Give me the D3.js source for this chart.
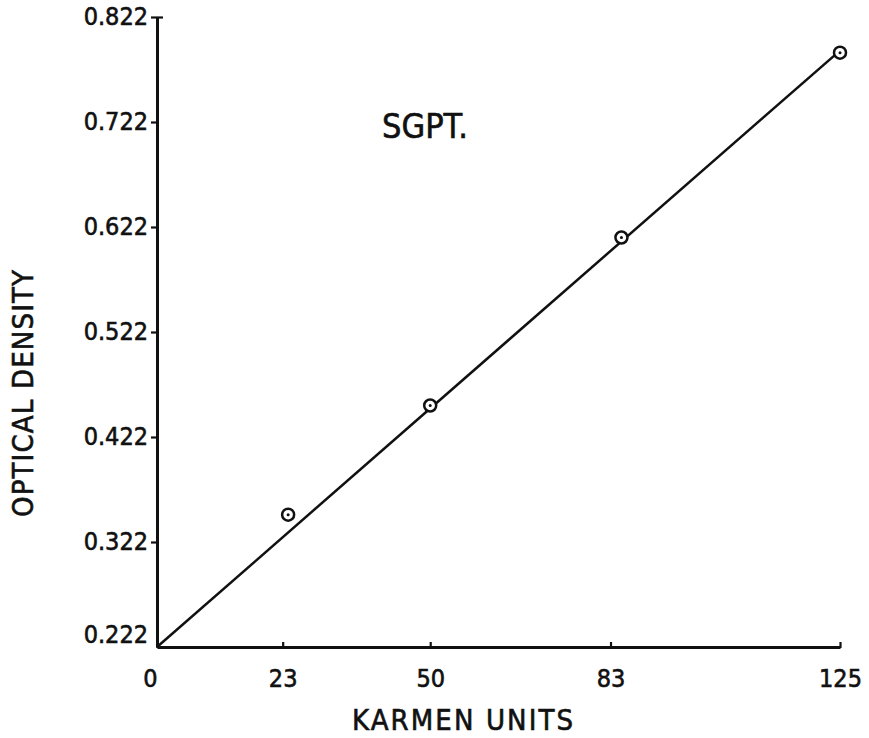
<!DOCTYPE html>
<html>
<head>
<meta charset="utf-8">
<script src="https://cdn.jsdelivr.net/npm/d3@7"></script>
<style>
  body { margin: 0; background: #fff; }
  svg { display: block; }
  text { font-family: "DejaVu Sans Condensed", "DejaVu Sans", sans-serif; fill: #111; stroke: #111; stroke-width: 0.6; }
</style>
</head>
<body>
<div id="chart"></div>
<script>
// Data
const unitsX = [24, 50, 85, 125];
const densityY = [0.348, 0.452, 0.612, 0.788];
// Fitted straight line (end points)
const lineX = [0, 125];
const lineY = [0.222, 0.79];
// Tick labels
const xTicks = [0, 23, 50, 83, 125];
const yTicks = [0.222, 0.322, 0.422, 0.522, 0.622, 0.722, 0.822];

function main() {
    const svg = d3.select("#chart").append("svg")
        .attr("width", 869)
        .attr("height", 738);

    // Scales
    const x = d3.scaleLinear().domain([0, 125]).range([157, 840]);
    const y = d3.scaleLinear().domain([0.222, 0.822]).range([647, 17]);

    // X axis
    const xAxis = svg.append("g")
        .attr("transform", "translate(0,647)")
        .call(d3.axisBottom(x).tickValues(xTicks).tickSizeOuter(0).tickSize(0).tickPadding(22));
    xAxis.select(".domain").attr("stroke", "#111").attr("stroke-width", 3);
    xAxis.selectAll(".tick line")
        .attr("y1", 1).attr("y2", -5)
        .attr("stroke", "#111").attr("stroke-width", 2.2);
    xAxis.selectAll(".tick text")
        .attr("font-size", 25)
        .attr("dy", "0.71em")
        .attr("dx", d => d === 0 ? -7 : 0);

    // Y axis
    const yAxis = svg.append("g")
        .attr("transform", "translate(157,0)")
        .call(d3.axisLeft(y).tickValues(yTicks).tickFormat(d3.format(".3f")).tickSizeOuter(0).tickSize(0).tickPadding(9));
    yAxis.select(".domain").attr("stroke", "#111").attr("stroke-width", 3);
    yAxis.selectAll(".tick line")
        .attr("x1", d => d === 0.822 ? 6 : 2).attr("x2", -6)
        .attr("stroke", "#111").attr("stroke-width", 2.2)
        .attr("display", d => d === 0.222 ? "none" : null);
    yAxis.selectAll(".tick text")
        .attr("font-size", 25)
        .attr("dy", d => d === 0.222 ? "-0.2em" : "0.28em");

    // Fitted line
    const line = d3.line().x(d => x(d[0])).y(d => y(d[1]));
    svg.append("path")
        .datum(d3.zip(lineX, lineY))
        .attr("d", line)
        .attr("fill", "none")
        .attr("stroke", "#111")
        .attr("stroke-width", 2.5);

    // Points (open circles with a dot)
    const pts = svg.selectAll(".pt")
        .data(d3.zip(unitsX, densityY))
        .enter()
        .append("g")
        .attr("class", "pt")
        .attr("transform", d => `translate(${x(d[0])},${y(d[1])})`);
    pts.append("circle").attr("r", 6).attr("fill", "#fff").attr("stroke", "#111").attr("stroke-width", 2.5);
    pts.append("circle").attr("r", 1.5).attr("fill", "#111");

    // Titles
    svg.append("text")
        .attr("x", 382).attr("y", 138)
        .attr("font-family", "DejaVu Sans")
        .attr("font-size", 34)
        .text("SGPT.");

    svg.append("text")
        .attr("x", 352).attr("y", 730)
        .attr("font-size", 29)
        .attr("textLength", 221)
        .text("KARMEN UNITS");

    svg.append("text")
        .attr("transform", "translate(33,517) rotate(-90)")
        .attr("font-size", 29)
        .attr("textLength", 247)
        .text("OPTICAL DENSITY");
}

main();
</script>
</body>
</html>
